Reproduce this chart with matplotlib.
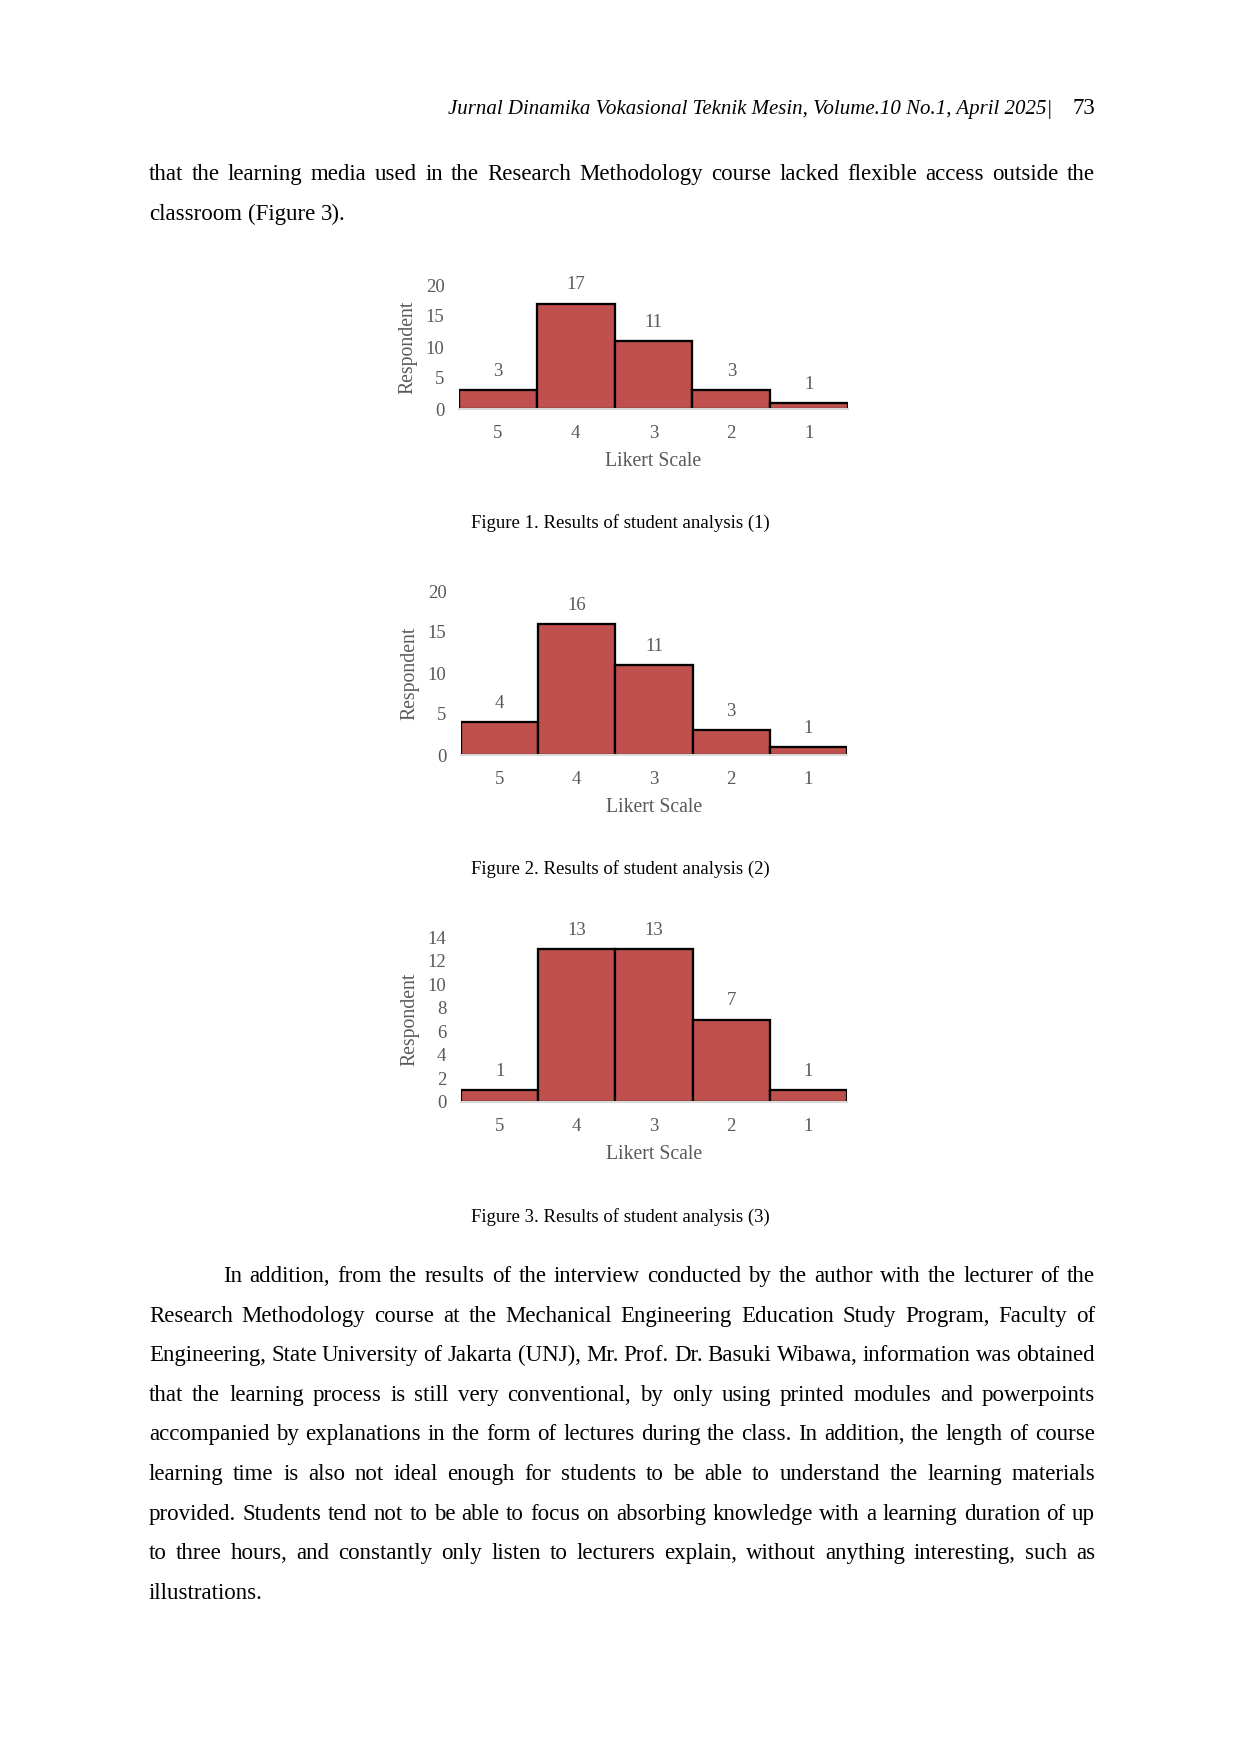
import matplotlib
matplotlib.use("Agg")
import matplotlib.pyplot as plt

# ---- Page geometry (pixels at 150 dpi) ----
W, H, DPI = 1240, 1754, 150
SERIF = "Liberation Serif"
GRAY = "#595959"
BAR_RED = "#C0504D"

# ---- Chart data ----
scale_labels = ["5", "4", "3", "2", "1"]
fig1_counts = [3, 17, 11, 3, 1]
fig2_counts = [4, 16, 11, 3, 1]
fig3_counts = [1, 13, 13, 7, 1]
fig1_yticks = [0, 5, 10, 15, 20]
fig2_yticks = [0, 5, 10, 15, 20]
fig3_yticks = [0, 2, 4, 6, 8, 10, 12, 14]

captions = [
    "Figure 1. Results of student analysis (1)",
    "Figure 2. Results of student analysis (2)",
    "Figure 3. Results of student analysis (3)",
]

header_text = "Jurnal Dinamika Vokasional Teknik Mesin, Volume.10 No.1, April 2025|"
page_number = "73"

para0_lines = [
    "that the learning media used in the Research Methodology course lacked flexible access outside the",
    "classroom (Figure 3).",
]
para1_lines = [
    "In addition, from the results of the interview conducted by the author with the lecturer of the",
    "Research Methodology course at the Mechanical Engineering Education Study Program, Faculty of",
    "Engineering, State University of Jakarta (UNJ), Mr. Prof. Dr. Basuki Wibawa, information was obtained",
    "that the learning process is still very conventional, by only using printed modules and powerpoints",
    "accompanied by explanations in the form of lectures during the class. In addition, the length of course",
    "learning time is also not ideal enough for students to be able to understand the learning materials",
    "provided. Students tend not to be able to focus on absorbing knowledge with a learning duration of up",
    "to three hours, and constantly only listen to lecturers explain, without anything interesting, such as",
    "illustrations.",
]

fig = plt.figure(figsize=(W / DPI, H / DPI), dpi=DPI)
fig.patch.set_facecolor("white")
renderer = fig.canvas.get_renderer()


def fx(x):
    return x / W


def fy(y):
    return 1 - y / H


def put_line(line, x0, x1, y, size, justify):
    words = line.split(" ")
    texts = [fig.text(0, fy(y), w, fontsize=size, family=SERIF, va="baseline")
             for w in words]
    widths = [t.get_window_extent(renderer).width for t in texts]
    probe_a = fig.text(0, 0, "a a", fontsize=size, family=SERIF)
    probe_b = fig.text(0, 0, "aa", fontsize=size, family=SERIF)
    space = probe_a.get_window_extent(renderer).width - probe_b.get_window_extent(renderer).width
    probe_a.remove()
    probe_b.remove()
    if justify and len(words) > 1:
        gap = (x1 - x0 - sum(widths)) / (len(words) - 1)
    else:
        gap = space
    x = x0
    for t, w in zip(texts, widths):
        t.set_position((fx(x), fy(y)))
        x += w + gap


def put_paragraph(lines, x0, x1, y0, step, size, indent=0):
    for i, line in enumerate(lines):
        start = x0 + indent if i == 0 else x0
        put_line(line, start, x1, y0 + i * step, size, justify=(i < len(lines) - 1))


# ---- Header ----
fig.text(fx(1052), fy(114), header_text, fontsize=10, family=SERIF,
         style="italic", ha="right", va="baseline")
fig.text(fx(1095), fy(114), page_number, fontsize=11, family=SERIF,
         ha="right", va="baseline")

# ---- Body text ----
LEFT, RIGHT = 149, 1095
put_paragraph(para0_lines, LEFT, RIGHT, 180, 39.6, 11)
put_paragraph(para1_lines, LEFT, RIGHT, 1282, 39.6, 11, indent=74)


# ---- Charts ----
def draw_chart(box, counts, yticks):
    left, right, bottom, top = box
    ax = fig.add_axes([fx(left), fy(bottom), fx(right) - fx(left), fy(top) - fy(bottom)])
    x = list(range(len(counts)))
    bars = ax.bar(x, counts, width=1.0, color=BAR_RED, edgecolor="black", linewidth=1.1)
    for rect, v in zip(bars, counts):
        ax.annotate(str(v), (rect.get_x() + rect.get_width() / 2, v),
                    xytext=(0, 9), textcoords="offset points",
                    ha="center", va="center", fontsize=9, family=SERIF, color=GRAY)
    ax.set_xlim(-0.5, len(counts) - 0.5)
    ax.set_ylim(yticks[0], yticks[-1])
    ax.set_xticks(x)
    ax.set_xticklabels(scale_labels)
    ax.set_yticks(yticks)
    ax.tick_params(axis="both", length=0, labelsize=9, labelcolor=GRAY)
    ax.tick_params(axis="x", pad=7.5)
    ax.tick_params(axis="y", pad=7)
    for lab in ax.get_xticklabels() + ax.get_yticklabels():
        lab.set_fontfamily(SERIF)
    for s in ["left", "top", "right"]:
        ax.spines[s].set_visible(False)
    ax.spines["bottom"].set_color("#D9D9D9")
    ax.spines["bottom"].set_linewidth(1.0)
    ax.set_xlabel("Likert Scale", fontsize=9.5, family=SERIF, color=GRAY, labelpad=5)
    ax.set_ylabel("Respondent", fontsize=9.5, family=SERIF, color=GRAY, labelpad=4)
    ax.patch.set_alpha(0)
    return ax


draw_chart((459, 848, 409, 285), fig1_counts, fig1_yticks)
draw_chart((461, 847, 755, 591), fig2_counts, fig2_yticks)
draw_chart((461, 847, 1102, 937), fig3_counts, fig3_yticks)

# ---- Captions ----
for cap, yb in zip(captions, [528, 874, 1222]):
    fig.text(fx(620), fy(yb), cap, fontsize=9, family=SERIF, ha="center", va="baseline")

fig.savefig("out.png", dpi=DPI)
